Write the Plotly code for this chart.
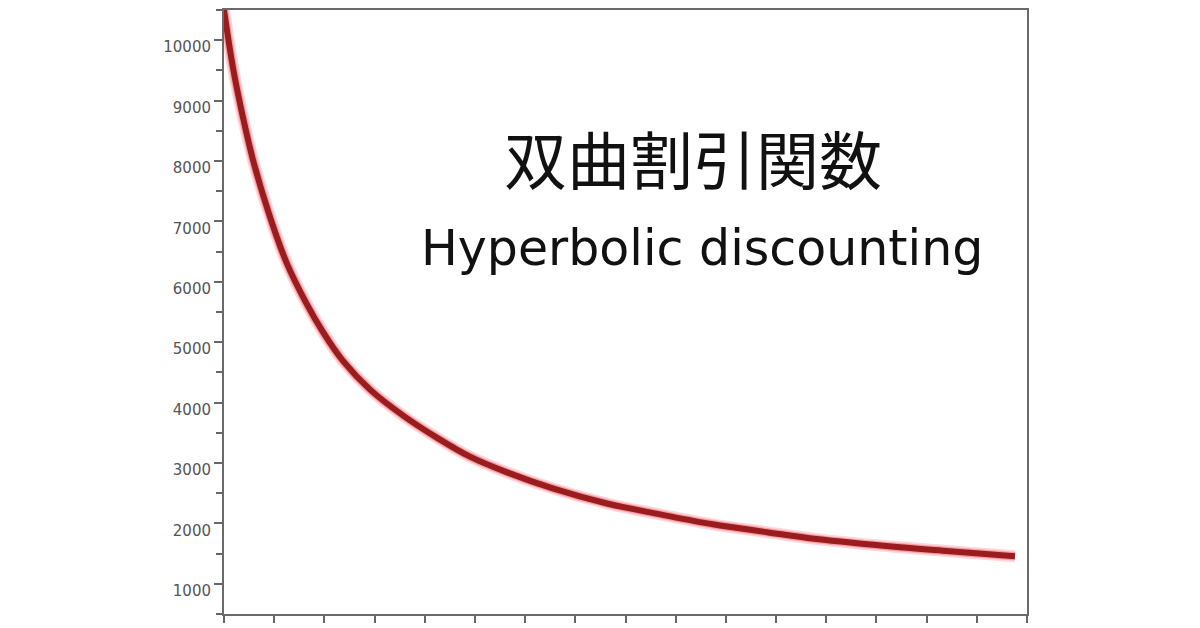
import plotly.graph_objects as go

# Delay (in x-axis tick units) and discounted value
delay = [0.0, 0.18, 0.38, 0.58, 0.92, 1.25, 1.65, 1.97, 2.37, 2.91, 3.57, 4.24,
         4.90, 5.64, 6.55, 7.63, 8.69, 9.74, 10.82, 11.81, 13.47, 14.46, 15.76]
value = [10500, 9540, 8715, 8010, 7065, 6310, 5630, 5170, 4690, 4215, 3785, 3420,
         3105, 2845, 2580, 2330, 2150, 1985, 1855, 1740, 1605, 1540, 1457]

y_ticks = [1000, 2000, 3000, 4000, 5000, 6000, 7000, 8000, 9000, 10000]
y_ticktext = [str(v) for v in y_ticks]
x_ticks = list(range(0, 17))

title_ja = "双曲割引関数"
title_en = "Hyperbolic discounting"

fig = go.Figure()
# soft pink halo
fig.add_trace(go.Scatter(x=delay, y=value, mode="lines",
                         line=dict(color="rgba(255,120,130,0.3)", width=12, shape="spline"),
                         hoverinfo="skip", showlegend=False))
fig.add_trace(go.Scatter(x=delay, y=value, mode="lines",
                         line=dict(color="rgba(240,90,100,0.45)", width=8.5, shape="spline"),
                         hoverinfo="skip", showlegend=False))
fig.add_trace(go.Scatter(x=delay, y=value, mode="lines",
                         line=dict(color="#991c1f", width=6, shape="spline"),
                         showlegend=False))

fig.update_layout(
    width=1200, height=628,
    margin=dict(l=216, r=181, t=0, b=22),
    paper_bgcolor="white", plot_bgcolor="white",
    xaxis=dict(range=[0, 16], tickvals=x_ticks, showticklabels=False,
               ticks="outside", ticklen=7, tickwidth=2, tickcolor="#666",
               showline=True, linecolor="#6a6a6a", linewidth=2, mirror=True,
               showgrid=False, zeroline=False),
    yaxis=dict(range=[500, 10500], tickvals=y_ticks, ticktext=y_ticktext,
               ticks="outside", ticklen=8, tickwidth=2, tickcolor="#666",
               minor=dict(dtick=500, ticks="outside", ticklen=6, tickwidth=2, tickcolor="#666"),
               showline=True, linecolor="#6a6a6a", linewidth=2, mirror=True,
               showgrid=False, zeroline=False, ticklabelshift=7,
               tickfont=dict(family="DejaVu Sans", size=15, color="#555")),
    annotations=[
        dict(text=title_ja, xref="paper", yref="paper", x=0.584, y=0.757,
             xanchor="center", yanchor="middle", showarrow=False,
             font=dict(family="Noto Sans CJK JP", size=63, color="#111")),
        dict(text=title_en, xref="paper", yref="paper", x=0.595, y=0.605,
             xanchor="center", yanchor="middle", showarrow=False,
             font=dict(family="DejaVu Sans", size=49, color="#111")),
    ],
)

fig.write_html("out.html")
